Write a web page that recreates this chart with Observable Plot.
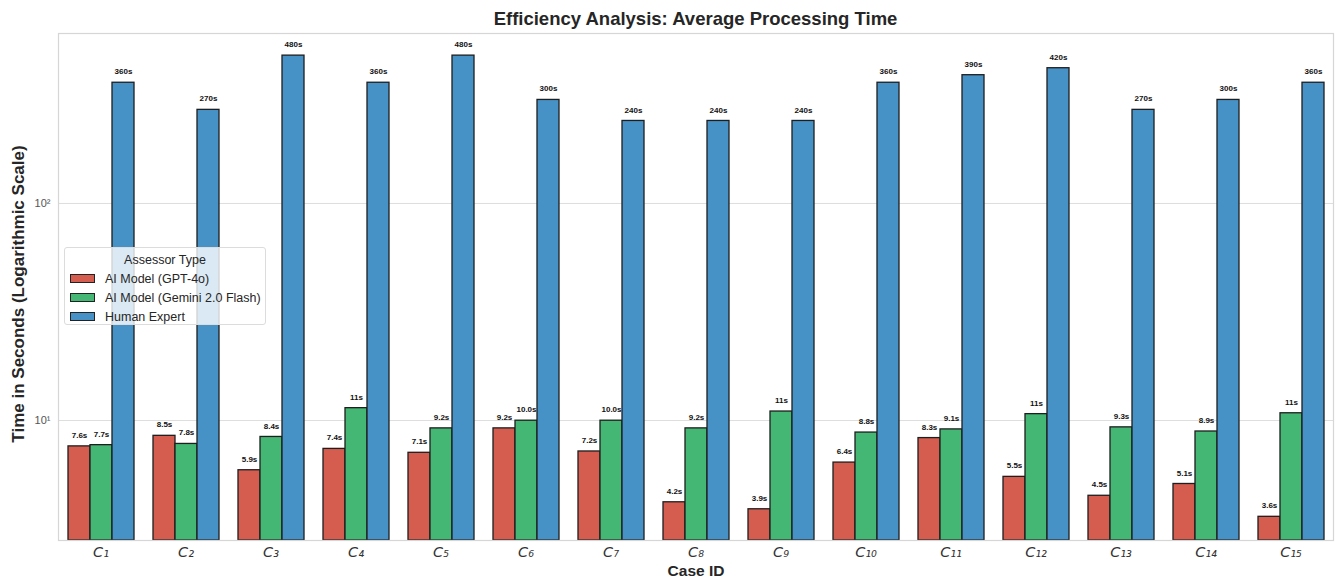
<!DOCTYPE html>
<html>
<head>
<meta charset="utf-8">
<script src="https://cdn.jsdelivr.net/npm/d3@7"></script>
<script src="https://cdn.jsdelivr.net/npm/@observablehq/plot@0.6"></script>
<style>
  html, body { margin: 0; padding: 0; background: #fff; }
  #wrap { position: relative; width: 1339px; height: 579px; font-family: "Liberation Sans", Arial, sans-serif; }
  #title { height: 31px; width: 1339px; text-align: center; font-weight: bold; font-size: 18.5px; color: #262626; line-height: 38px; padding-left: 52px; box-sizing: border-box; }
  #legend { position: absolute; left: 64px; top: 247px; width: 202px; height: 78px; box-sizing: border-box;
    background: rgba(255,255,255,0.8); border: 1px solid #dcdcdc; border-radius: 3px; font-size: 12.5px; color: #262626; white-space: nowrap; }
  #legend .lt { text-align: center; margin-top: 3px; height: 18px; line-height: 18px; }
  #legend .row { display: flex; align-items: center; height: 19px; }
  #legend .sw { width: 25px; height: 9px; border: 1px solid #222; margin-left: 5px; margin-right: 10px; box-sizing: border-box; flex: none; }
</style>
</head>
<body>
<div id="wrap">
  <div id="title">Efficiency Analysis: Average Processing Time</div>
  <div id="chart"></div>
  <div id="legend"></div>
</div>
<script>
const cases = ["C1","C2","C3","C4","C5","C6","C7","C8","C9","C10","C11","C12","C13","C14","C15"];
const series = ["AI Model (GPT-4o)", "AI Model (Gemini 2.0 Flash)", "Human Expert"];
const colors = ["#d45d50", "#43b773", "#4692c7"];
const gpt4o  = [7.6, 8.5, 5.9, 7.4, 7.1, 9.2, 7.2, 4.2, 3.9, 6.4, 8.3, 5.5, 4.5, 5.1, 3.6];
const gemini = [7.7, 7.8, 8.4, 11.4, 9.2, 9.98, 9.98, 9.2, 11.0, 8.8, 9.1, 10.7, 9.3, 8.9, 10.8];
const human  = [360, 270, 480, 360, 480, 300, 240, 240, 240, 360, 390, 420, 270, 300, 360];
const yTicks = [10, 100];
const yDomain = [2.8, 607];

const data = [];
[gpt4o, gemini, human].forEach((vals, si) => {
  vals.forEach((v, i) => data.push({ case: cases[i], series: series[si], value: v }));
});

const sub = s => s.replace(/\d/g, d => "₀₁₂₃₄₅₆₇₈₉"[+d]);
const sup = s => s.replace(/\d/g, d => "⁰¹²³⁴⁵⁶⁷⁸⁹"[+d]);
const fmt = v => v < 10 ? v.toFixed(1) + "s" : v.toFixed(0) + "s";

const chart = Plot.plot({
  width: 1339,
  height: 548,
  marginTop: 2,
  marginBottom: 39,
  marginLeft: 58,
  marginRight: 6,
  style: { fontFamily: "'Liberation Sans', Arial, sans-serif", background: "#fff" },
  fx: { domain: cases, padding: 0, axis: null },
  x: { domain: series, paddingInner: 0, paddingOuter: 0.375, axis: null },
  y: { type: "log", domain: yDomain, axis: null, grid: false },
  color: { domain: series, range: colors },
  marks: [
    Plot.ruleY(yTicks, { y: d => d, stroke: "#dedede", strokeWidth: 1 }),
    Plot.barY(data, {
      fx: "case", x: "series", y1: () => yDomain[0], y2: "value",
      fill: "series", stroke: "#1e1e1e", strokeWidth: 1.3, clip: true
    }),
    Plot.text(data, {
      fx: "case", x: "series", y: "value", text: d => fmt(d.value),
      dy: -11, fontSize: 8, fontWeight: "bold", fill: "#111"
    }),
    Plot.axisY(yTicks, {
      anchor: "left", tickSize: 0, tickPadding: 8, fontSize: 11, fill: "#555",
      tickFormat: d => "10" + sup(String(Math.round(Math.log10(d)))), label: null
    }),
    Plot.axisFx({
      anchor: "bottom", tickSize: 0, tickPadding: 6, fontSize: 14.5, fontStyle: "italic",
      fontFamily: "'DejaVu Sans', sans-serif", fill: "#333", tickFormat: sub, label: null
    }),
    Plot.frame({ facet: "super", stroke: "#d6d6d6", strokeWidth: 1.2 }),
    Plot.text(["Case ID"], {
      facet: "super", frameAnchor: "bottom", lineAnchor: "middle", dy: 31,
      text: d => d, fontSize: 15.5, fontWeight: "bold", fill: "#262626"
    }),
    Plot.text(["Time in Seconds (Logarithmic Scale)"], {
      facet: "super", frameAnchor: "left", rotate: -90, dx: -40, dy: 7,
      textAnchor: "middle", lineAnchor: "middle",
      text: d => d, fontSize: 17, fontWeight: "bold", fill: "#262626"
    })
  ]
});
document.getElementById("chart").appendChild(chart);

const legend = document.getElementById("legend");
const lt = document.createElement("div");
lt.className = "lt"; lt.textContent = "Assessor Type";
legend.appendChild(lt);
series.forEach((s, i) => {
  const row = document.createElement("div");
  row.className = "row";
  const sw = document.createElement("div");
  sw.className = "sw"; sw.style.background = colors[i];
  const tx = document.createElement("span");
  tx.textContent = s;
  row.appendChild(sw); row.appendChild(tx);
  legend.appendChild(row);
});
</script>
</body>
</html>
